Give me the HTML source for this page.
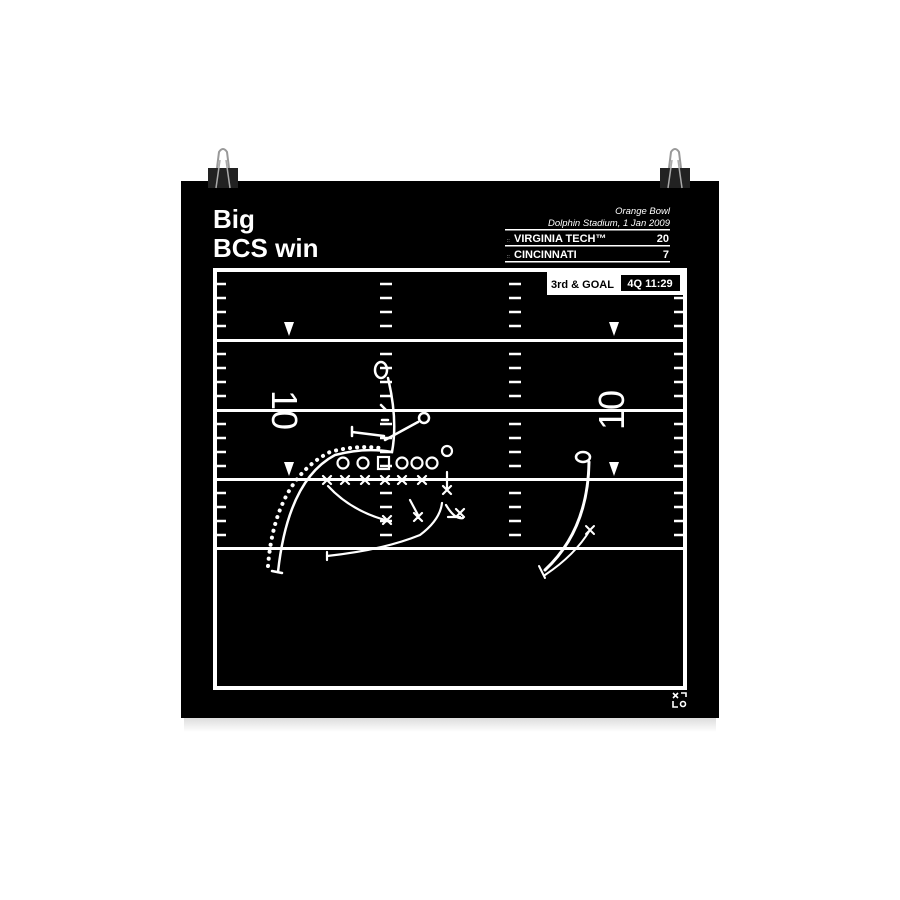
<!DOCTYPE html>
<html><head><style>
html,body{margin:0;padding:0;background:#fff;}
svg{display:block;}
text{font-family:"Liberation Sans",sans-serif;}
</style></head><body>
<svg width="900" height="900" viewBox="0 0 900 900" xmlns="http://www.w3.org/2000/svg">
<rect width="900" height="900" fill="#fff"/>
<defs>
<linearGradient id="sh" x1="0" y1="0" x2="0" y2="1"><stop offset="0" stop-color="#ddd"/><stop offset="1" stop-color="#fff"/></linearGradient>
</defs>
<rect x="184" y="718" width="532" height="14" fill="url(#sh)"/>
<rect x="181" y="181" width="538" height="537" fill="#000"/>
<g>
<rect x="208" y="168" width="30" height="20" fill="#222"/>
<path d="M217 168 L219 152 Q223 146 227 152 L229 168" fill="none" stroke="#999" stroke-width="2"/>
<path d="M216 188 L220 160 M230 188 L226 160" stroke="#aaa" stroke-width="1.5"/>
<rect x="660" y="168" width="30" height="20" fill="#222"/>
<path d="M669 168 L671 152 Q675 146 679 152 L681 168" fill="none" stroke="#999" stroke-width="2"/>
<path d="M668 188 L672 160 M682 188 L678 160" stroke="#aaa" stroke-width="1.5"/>
</g>
<text x="670" y="214" fill="#fff" font-size="9.5" font-style="italic" text-anchor="end">Orange Bowl</text>
<text x="670" y="226" fill="#fff" font-size="9.5" font-style="italic" text-anchor="end">Dolphin Stadium, 1 Jan 2009</text>
<rect x="505" y="229" width="165" height="1.5" fill="#fff"/>
<rect x="505" y="245" width="165" height="1.5" fill="#fff"/>
<rect x="505" y="261" width="165" height="1.5" fill="#fff"/>
<text x="507" y="242" fill="#fff" font-size="5">::</text>
<text x="514" y="242" fill="#fff" font-size="11" font-weight="bold">VIRGINIA TECH™</text>
<text x="669" y="242" fill="#fff" font-size="11" font-weight="bold" text-anchor="end">20</text>
<text x="507" y="258" fill="#fff" font-size="5">::</text>
<text x="514" y="258" fill="#fff" font-size="11" font-weight="bold">CINCINNATI</text>
<text x="669" y="258" fill="#fff" font-size="11" font-weight="bold" text-anchor="end">7</text>
<rect x="215" y="270" width="470" height="418" fill="none" stroke="#fff" stroke-width="4"/>
<g fill="#fff">
<rect x="215" y="339" width="470" height="3"/>
<rect x="215" y="409" width="470" height="3"/>
<rect x="215" y="478" width="470" height="3"/>
<rect x="215" y="547" width="470" height="3"/>
</g>
<g stroke="#fff" stroke-width="2.5">
<path d="M217 284h9M217 298h9M217 312h9M217 326h9 M217 354h9M217 368h9M217 382h9M217 396h9 M217 424h9M217 438h9M217 452h9M217 466h9 M217 493h9M217 507h9M217 521h9M217 535h9"/>
<path d="M674 284h9M674 298h9M674 312h9M674 326h9 M674 354h9M674 368h9M674 382h9M674 396h9 M674 424h9M674 438h9M674 452h9M674 466h9 M674 493h9M674 507h9M674 521h9M674 535h9"/>
<path d="M380 284h12M380 298h12M380 312h12M380 326h12 M380 354h12M380 368h12M380 382h12M380 396h12 M380 424h12M380 438h12M380 452h12M380 466h12 M380 493h12M380 507h12M380 521h12M380 535h12"/>
<path d="M509 284h12M509 298h12M509 312h12M509 326h12 M509 354h12M509 368h12M509 382h12M509 396h12 M509 424h12M509 438h12M509 452h12M509 466h12 M509 493h12M509 507h12M509 521h12M509 535h12"/>
</g>
<g fill="#fff">
<path d="M284 322h10l-5 14z"/><path d="M284 462h10l-5 14z"/>
<path d="M609 322h10l-5 14z"/><path d="M609 462h10l-5 14z"/>
</g>
<text transform="translate(272,410) rotate(90)" fill="#fff" font-size="36" text-anchor="middle">10</text>
<text transform="translate(624,410) rotate(-90)" fill="#fff" font-size="36" text-anchor="middle">10</text>
<rect x="547" y="272" width="136" height="23" fill="#fff"/>
<text x="551" y="288" fill="#000" font-size="11" font-weight="bold">3rd &amp; GOAL</text>
<rect x="621" y="275" width="59" height="16" fill="#000"/>
<text x="650" y="287" fill="#fff" font-size="11" font-weight="bold" text-anchor="middle">4Q 11:29</text>
<g fill="none" stroke="#fff" stroke-width="2.5" stroke-linecap="round">
<path d="M268 566 Q275 480 330 452 Q355 445 380 448" stroke-dasharray="0.1 7" stroke-width="4"/>
<path d="M278 572 Q288 480 335 455 Q365 447 392 452 Q398 420 388 378"/>
<path d="M272 571 l10 2"/>
<ellipse cx="381" cy="370" rx="6" ry="8"/>
<path d="M385 440 L418 422"/><circle cx="424" cy="418" r="5"/>
<path d="M352 432 L384 436 M352 427 v9"/>
<path d="M381 405 l5 5 M382 420 h6"/>
<g stroke-width="2.2">
<circle cx="343" cy="463" r="5.5"/><circle cx="363" cy="463" r="5.5"/><rect x="378" y="457" width="11" height="12"/><circle cx="402" cy="463" r="5.5"/><circle cx="417" cy="463" r="5.5"/><circle cx="432" cy="463" r="5.5"/><circle cx="447" cy="451" r="5"/>
<path d="M323 476l8 8M331 476l-8 8 M341 476l8 8M349 476l-8 8 M361 476l8 8M369 476l-8 8 M381 476l8 8M389 476l-8 8 M398 476l8 8M406 476l-8 8 M418 476l8 8M426 476l-8 8"/>
<path d="M443 486l8 8M451 486l-8 8 M456 509l8 8M464 509l-8 8 M414 513l8 8M422 513l-8 8 M383 516l8 8M391 516l-8 8"/>
<path d="M328 486 Q350 510 385 520"/>
<path d="M327 556 Q383 550 420 535 Q440 520 442 503"/><path d="M327 552 v8"/>
<path d="M447 472 L447 488 M410 500 L418 515 M446 505 Q455 520 463 518 M460 517 h-12"/>
</g>
<ellipse cx="583" cy="457" rx="7" ry="5"/>
<path d="M589 462 Q588 530 545 570" stroke-width="3"/>
<path d="M590 530 Q575 555 545 575" stroke-width="2"/>
<path d="M586 526l8 8M594 526l-8 8" stroke-width="2"/>
<path d="M539 566 l6 12" stroke-width="2"/>
</g>
<g fill="none" stroke="#fff" stroke-width="1.6">
<path d="M673 693l5 5M678 693l-5 5"/><path d="M681 693h5v4"/><path d="M673 701v6h5"/><circle cx="683" cy="704" r="2.5"/>
</g>
</svg>
<div style="position:absolute;left:0;top:0;width:900px;height:900px;pointer-events:none;">
<div style="position:absolute;left:213px;top:205px;color:#fff;font:bold 26px 'Liberation Sans',sans-serif;line-height:29px;">Big<br>BCS win</div>
</div>
</body></html>
